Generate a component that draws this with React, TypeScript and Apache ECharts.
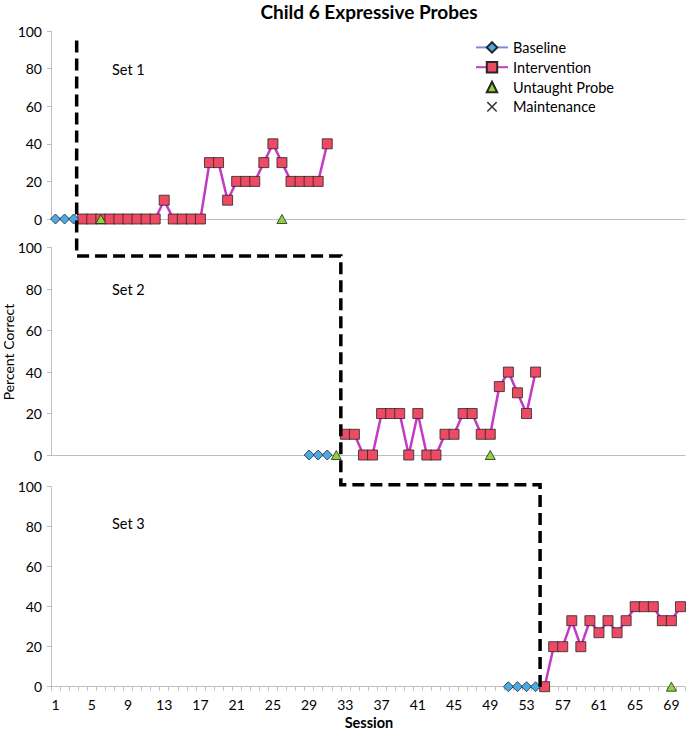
import React, { useEffect, useRef } from "react";
import * as echarts from "echarts";

// Categories: sessions 1..70
const sessions: string[] = Array.from({ length: 70 }, (_, i) => String(i + 1));

// Set 1
const baseline1Sessions = [1, 2, 3];
const baseline1Values = [0, 0, 0];
const intervention1Sessions = [4, 5, 6, 7, 8, 9, 10, 11, 12, 13, 14, 15, 16, 17, 18, 19, 20, 21, 22, 23, 24, 25, 26, 27, 28, 29, 30, 31];
const intervention1Values = [0, 0, 0, 0, 0, 0, 0, 0, 0, 10, 0, 0, 0, 0, 30, 30, 10, 20, 20, 20, 30, 40, 30, 20, 20, 20, 20, 40];
const untaught1Sessions = [6, 26];
const untaught1Values = [0, 0];

// Set 2
const baseline2Sessions = [29, 30, 31];
const baseline2Values = [0, 0, 0];
const intervention2Sessions = [33, 34, 35, 36, 37, 38, 39, 40, 41, 42, 43, 44, 45, 46, 47, 48, 49, 50, 51, 52, 53, 54];
const intervention2Values = [10, 10, 0, 0, 20, 20, 20, 0, 20, 0, 0, 10, 10, 20, 20, 10, 10, 33, 40, 30, 20, 40];
const untaught2Sessions = [32, 49];
const untaught2Values = [0, 0];

// Set 3
const baseline3Sessions = [51, 52, 53, 54];
const baseline3Values = [0, 0, 0, 0];
const intervention3Sessions = [55, 56, 57, 58, 59, 60, 61, 62, 63, 64, 65, 66, 67, 68, 69, 70];
const intervention3Values = [0, 20, 20, 33, 20, 33, 27, 33, 27, 33, 40, 40, 40, 33, 33, 40];
const untaught3Sessions = [69];
const untaught3Values = [0];

const yTicks = [0, 20, 40, 60, 80, 100];
const setLabels = ["Set 1", "Set 2", "Set 3"];
const legendNames = ["Baseline", "Intervention", "Untaught Probe", "Maintenance"];

const FONT = "Lato";
const AXIS_GRAY = "#BFBFBF";
const BASE_FILL = "#4AAAE6";
const BASE_LINE = "#7E8CD8";
const INT_FILL = "#EE4A64";
const INT_LINE = "#C23BC4";
const PROBE_FILL = "#8DD43A";
const BORDER = "#262626";

const pairs = (s: number[], v: number[]) => s.map((x, i) => [String(x), v[i]]);

const X_PATH = "path://M0,1L1,0L5,4L9,0L10,1L6,5L10,9L9,10L5,6L1,10L0,9L4,5Z";

export default function App() {
  const ref = useRef<HTMLDivElement>(null);

  useEffect(() => {
    if (!ref.current) return;
    const chart = echarts.init(ref.current, null, { renderer: "svg" });

    const grids = [
      { left: 51, width: 634, top: 31, height: 188 },
      { left: 51, width: 634, top: 247.7, height: 207.3 },
      { left: 51, width: 634, top: 486.7, height: 200 },
    ];

    const xAxes = grids.map((_, i) => ({
      type: "category",
      gridIndex: i,
      data: sessions,
      boundaryGap: true,
      axisLine: { show: true, lineStyle: { color: AXIS_GRAY, width: 1 } },
      axisTick: i === 2 ? { show: true, interval: 0, length: 4, lineStyle: { color: AXIS_GRAY } } : { show: false },
      axisLabel:
        i === 2
          ? { show: true, interval: 3, fontSize: 14, color: "#000", fontFamily: FONT, margin: 11 }
          : { show: false },
      splitLine: { show: false },
    }));

    const yAxes = grids.map((_, i) => ({
      type: "value",
      gridIndex: i,
      min: yTicks[0],
      max: yTicks[yTicks.length - 1],
      interval: 20,
      axisLine: { show: true, lineStyle: { color: AXIS_GRAY, width: 1 } },
      axisTick: { show: true, length: 4, lineStyle: { color: AXIS_GRAY } },
      axisLabel: { fontSize: 14, color: "#000", fontFamily: FONT, margin: 9 },
      splitLine: { show: false },
    }));

    const common = { showSymbol: true, showAllSymbol: true };

    const baseStyle = (gi: number, s: number[], v: number[]) => ({
      ...common,
      name: "Baseline",
      type: "line",
      xAxisIndex: gi,
      yAxisIndex: gi,
      data: pairs(s, v),
      symbol: "diamond",
      symbolSize: 10,
      lineStyle: { color: BASE_LINE, width: 2.5 },
      itemStyle: { color: BASE_FILL, borderColor: BORDER, borderWidth: 0.8 },
      z: 3,
    });
    const intStyle = (gi: number, s: number[], v: number[]) => ({
      ...common,
      name: "Intervention",
      type: "line",
      xAxisIndex: gi,
      yAxisIndex: gi,
      data: pairs(s, v),
      symbol: "rect",
      symbolSize: 10,
      lineStyle: { color: INT_LINE, width: 2.5 },
      itemStyle: { color: INT_FILL, borderColor: BORDER, borderWidth: 0.8 },
      z: 2,
    });
    const probeStyle = (gi: number, s: number[], v: number[]) => ({
      ...common,
      name: "Untaught Probe",
      type: "line",
      xAxisIndex: gi,
      yAxisIndex: gi,
      data: pairs(s, v),
      symbol: "triangle",
      symbolSize: [10, 9],
      lineStyle: { width: 0, opacity: 0 },
      itemStyle: { color: PROBE_FILL, borderColor: BORDER, borderWidth: 0.8 },
      z: 4,
    });

    const series: any[] = [
      baseStyle(0, baseline1Sessions, baseline1Values),
      intStyle(0, intervention1Sessions, intervention1Values),
      probeStyle(0, untaught1Sessions, untaught1Values),
      {
        ...common,
        name: "Maintenance",
        type: "line",
        xAxisIndex: 0,
        yAxisIndex: 0,
        data: [],
        symbol: X_PATH,
        symbolSize: 9,
        lineStyle: { width: 0, opacity: 0 },
        itemStyle: { color: "#333" },
      },
      baseStyle(1, baseline2Sessions, baseline2Values),
      intStyle(1, intervention2Sessions, intervention2Values),
      probeStyle(1, untaught2Sessions, untaught2Values),
      baseStyle(2, baseline3Sessions, baseline3Values),
      intStyle(2, intervention3Sessions, intervention3Values),
      probeStyle(2, untaught3Sessions, untaught3Values),
    ];

    chart.setOption({
      animation: false,
      backgroundColor: "#fff",
      textStyle: { fontFamily: FONT },
      grid: grids,
      xAxis: xAxes,
      yAxis: yAxes,
      legend: {
        data: legendNames,
        orient: "vertical",
        left: 475,
        top: 37.5,
        padding: 0,
        itemGap: 0,
        itemWidth: 32,
        itemHeight: 13,
        selectedMode: false,
        textStyle: { fontSize: 14.5, color: "#000", fontFamily: FONT, lineHeight: 19.8 },
      },
      series,
    });

    const px = (g: number, idx: number, v: number) =>
      chart.convertToPixel({ gridIndex: g } as any, [idx, v]) as number[];
    const between = (g: number, a: number, v: number) => {
      const p1 = px(g, a, v);
      const p2 = px(g, a + 1, v);
      return [(p1[0] + p2[0]) / 2, p1[1]];
    };

    // phase-change line: between sessions 3|4, 32|33, 54|55
    const p1 = between(0, 2, 95);
    const p2 = [p1[0] - 1.5, between(1, 2, 96)[1]];
    p1[0] -= 1.5;
    const p3 = between(1, 31, 96);
    const p4 = [p3[0], between(2, 31, 101)[1]];
    const p5 = between(2, 53, 101);
    const p6 = [p5[0], between(2, 53, 0)[1]];

    const setYs = [px(0, 0, 80)[1] + 0.5, px(1, 0, 80)[1] + 0.5, px(2, 0, 82)[1] + 0.5];

    chart.setOption({
      graphic: [
        {
          type: "text",
          x: 369,
          y: 11,
          style: {
            text: "Child 6 Expressive Probes",
            font: `bold 19px ${FONT}`,
            fill: "#000",
            align: "center",
            verticalAlign: "middle",
          },
        },
        ...setLabels.map((t, i) => ({
          type: "text",
          x: 112,
          y: setYs[i],
          style: { text: t, font: `14.5px ${FONT}`, fill: "#000", align: "left", verticalAlign: "middle" },
        })),
        {
          type: "text",
          x: 8,
          y: 352,
          rotation: Math.PI / 2,
          style: { text: "Percent Correct", font: `14px ${FONT}`, fill: "#000", align: "center", verticalAlign: "middle" },
        },
        {
          type: "text",
          x: 369,
          y: 722,
          style: { text: "Session", font: `bold 14.5px ${FONT}`, fill: "#000", align: "center", verticalAlign: "middle" },
        },
        {
          type: "polyline",
          z: 100,
          shape: { points: [p1, p2, p3, p4, p5, p6] },
          style: { stroke: "#000", lineWidth: 3.5, lineDash: [12, 6], fill: null },
        },
      ],
    });

    return () => chart.dispose();
  }, []);

  return (
    <div
      ref={ref}
      style={{ position: "fixed", left: 0, top: 0, width: 688, height: 730, background: "#fff" }}
    />
  );
}
